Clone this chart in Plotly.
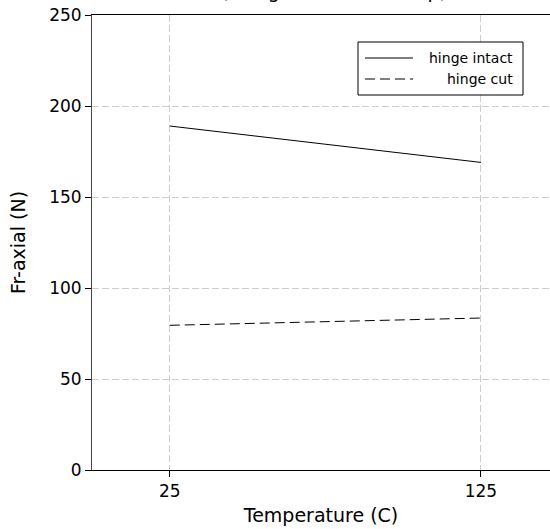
import plotly.graph_objects as go

temperature = [25, 125]
hinge_intact = [189, 169]
hinge_cut = [79.5, 83.5]
series_names = ["hinge intact", "hinge cut"]
x_ticks = [25, 125]
y_ticks = [0, 50, 100, 150, 200, 250]
title_text = "(using exact test setup)"

W, H = 550, 529
ML, MR, MT, MB = 92, 0, 15, 59
PW, PH = W - ML - MR, H - MT - MB
FONT = "DejaVu Sans"

def px(xp):
    return (xp - ML) / PW

def py(yp):
    return (H - MB - yp) / PH

fig = go.Figure()
fig.add_trace(go.Scatter(x=temperature, y=hinge_intact, mode="lines", name=series_names[0],
                         line=dict(color="black", width=1), showlegend=False))
fig.add_trace(go.Scatter(x=temperature, y=hinge_cut, mode="lines", name=series_names[1],
                         line=dict(color="black", width=1, dash="10px,5px"), showlegend=False))

# custom legend (right-aligned text)
shapes = [
    dict(type="rect", xref="paper", yref="paper", x0=px(358), x1=px(523), y0=py(95), y1=py(42),
         line=dict(color="black", width=1), fillcolor="white", layer="above"),
    dict(type="line", xref="paper", yref="paper", x0=px(365), x1=px(413), y0=py(58), y1=py(58),
         line=dict(color="black", width=1), layer="above"),
    dict(type="line", xref="paper", yref="paper", x0=px(365), x1=px(413), y0=py(79), y1=py(79),
         line=dict(color="black", width=1, dash="10px,5px"), layer="above"),
]
annotations = [
    dict(text=series_names[0], xref="paper", yref="paper", x=px(515), y=py(58), xanchor="right",
         yanchor="middle", showarrow=False, font=dict(family=FONT, size=14, color="black")),
    dict(text=series_names[1], xref="paper", yref="paper", x=px(515), y=py(79), xanchor="right",
         yanchor="middle", showarrow=False, font=dict(family=FONT, size=14, color="black")),
    dict(text=title_text, xref="paper", yref="paper", x=px(334), y=py(3.5), xanchor="center",
         yanchor="bottom", showarrow=False, font=dict(family=FONT, size=19, color="black")),
]

fig.update_layout(
    width=W, height=H,
    margin=dict(l=ML, r=MR, t=MT, b=MB, pad=0),
    paper_bgcolor="white", plot_bgcolor="white",
    font=dict(family=FONT, size=17, color="black"),
    shapes=shapes, annotations=annotations,
    showlegend=False,
)
fig.update_xaxes(
    range=[0, 147.2], tickvals=x_ticks, ticktext=[str(v) for v in x_ticks],
    showline=True, linecolor="black", linewidth=1, mirror=True,
    ticks="outside", ticklen=6, tickcolor="black",
    showgrid=True, gridcolor="#cccccc", gridwidth=1, griddash="7px,3px",
    zeroline=False, tickfont=dict(size=17),
    title=dict(text="Temperature (C)", font=dict(size=19), standoff=8),
)
fig.update_yaxes(
    range=[0, 250], tickvals=y_ticks,
    showline=True, linecolor="#444444", linewidth=1, mirror=False,
    ticks="outside", ticklen=6, tickcolor="black",
    showgrid=True, gridcolor="#cccccc", gridwidth=1, griddash="7px,3px",
    zeroline=False, tickfont=dict(size=17),
    title=dict(text="Fr-axial (N)", font=dict(size=19), standoff=18),
)

fig.write_html("out.html")
